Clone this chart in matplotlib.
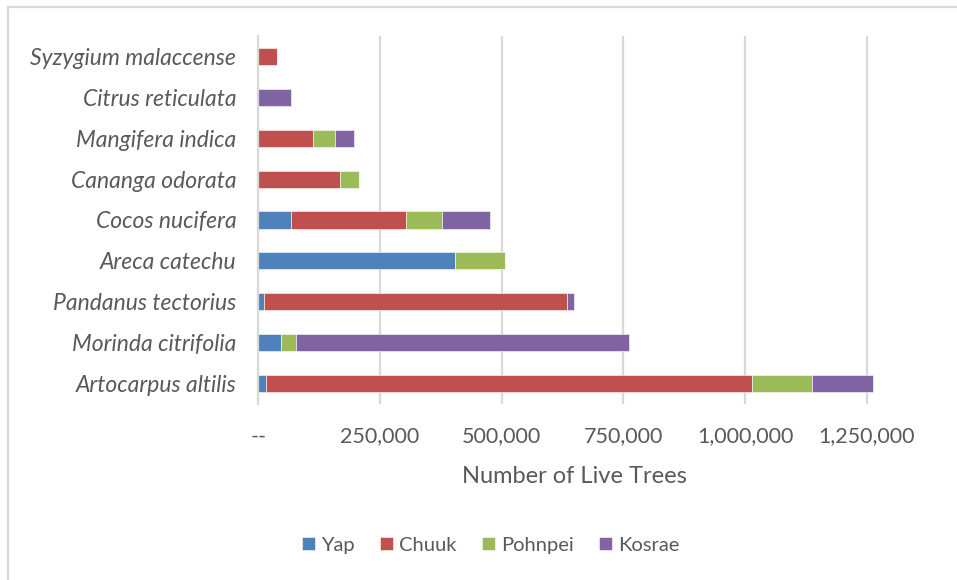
import numpy as np
import matplotlib.pyplot as plt
from matplotlib.patches import Rectangle

# species, bottom row first
species = ["Artocarpus altilis", "Morinda citrifolia", "Pandanus tectorius",
           "Areca catechu", "Cocos nucifera", "Cananga odorata",
           "Mangifera indica", "Citrus reticulata", "Syzygium malaccense"]
states = ["Yap", "Chuuk", "Pohnpei", "Kosrae"]

yap = [15000, 46000, 12000, 404000, 67000, 0, 0, 0, 0]
chuuk = [999000, 0, 623000, 0, 237000, 167000, 112000, 0, 38000]
pohnpei = [123000, 31500, 0, 103000, 74000, 39000, 45000, 0, 0]
kosrae = [126000, 684000, 13000, 0, 97000, 0, 39000, 67000, 0]

xticks = [0, 250000, 500000, 750000, 1000000, 1250000]
xticklabels = ["--", "250,000", "500,000", "750,000", "1,000,000", "1,250,000"]

colors = ["#4F81BD", "#C0504D", "#9BBB59", "#8064A2"]
txt = "#595959"
grid = "#d9d9d9"

plt.rcParams['font.family'] = ['Lato', 'DejaVu Sans']

fig = plt.figure(figsize=(9.57, 5.8), dpi=100)
ax = fig.add_axes([0.2701, 0.3034, 0.6609, 0.6346])

y = np.arange(len(species))
left = np.zeros(len(species))
for name, vals, c in zip(states, [yap, chuuk, pohnpei, kosrae], colors):
    vals = np.array(vals, dtype=float)
    ax.barh(y, vals, left=left, height=0.42, color=c, label=name,
            edgecolor="white", linewidth=0.4)
    left += vals

ax.set_xlim(0, 1300000)
ax.set_ylim(-0.5, len(species) - 0.5)
ax.set_xticks(xticks)
ax.set_xticklabels(xticklabels, fontsize=15.5, color=txt)
ax.set_yticks(y)
ax.set_yticklabels(species, fontsize=16.5, color=txt, style="italic")
ax.tick_params(axis="both", length=0)
ax.tick_params(axis="x", pad=16)
ax.tick_params(axis="y", pad=16)

ax.set_axisbelow(True)
ax.xaxis.grid(True, color=grid, linewidth=1.6)
for s in ["top", "right", "bottom"]:
    ax.spines[s].set_visible(False)
ax.spines["left"].set_color(grid)
ax.spines["left"].set_linewidth(1.6)

ax.set_xlabel("Number of Live Trees", fontsize=17, color=txt, labelpad=14)

fig.legend(loc="center", bbox_to_anchor=(0.513, 0.06), ncol=4, frameon=False,
           fontsize=14.5, labelcolor=txt, handlelength=0.65, handleheight=0.65,
           handletextpad=0.3, columnspacing=1.25)

# outer chart frame
fig.patches.append(Rectangle((8 / 957, -0.05), 1.0, 1 - 7 / 580 + 0.05,
                             transform=fig.transFigure, fill=False,
                             edgecolor=grid, linewidth=1.6))

fig.savefig("out.png", dpi=100)
